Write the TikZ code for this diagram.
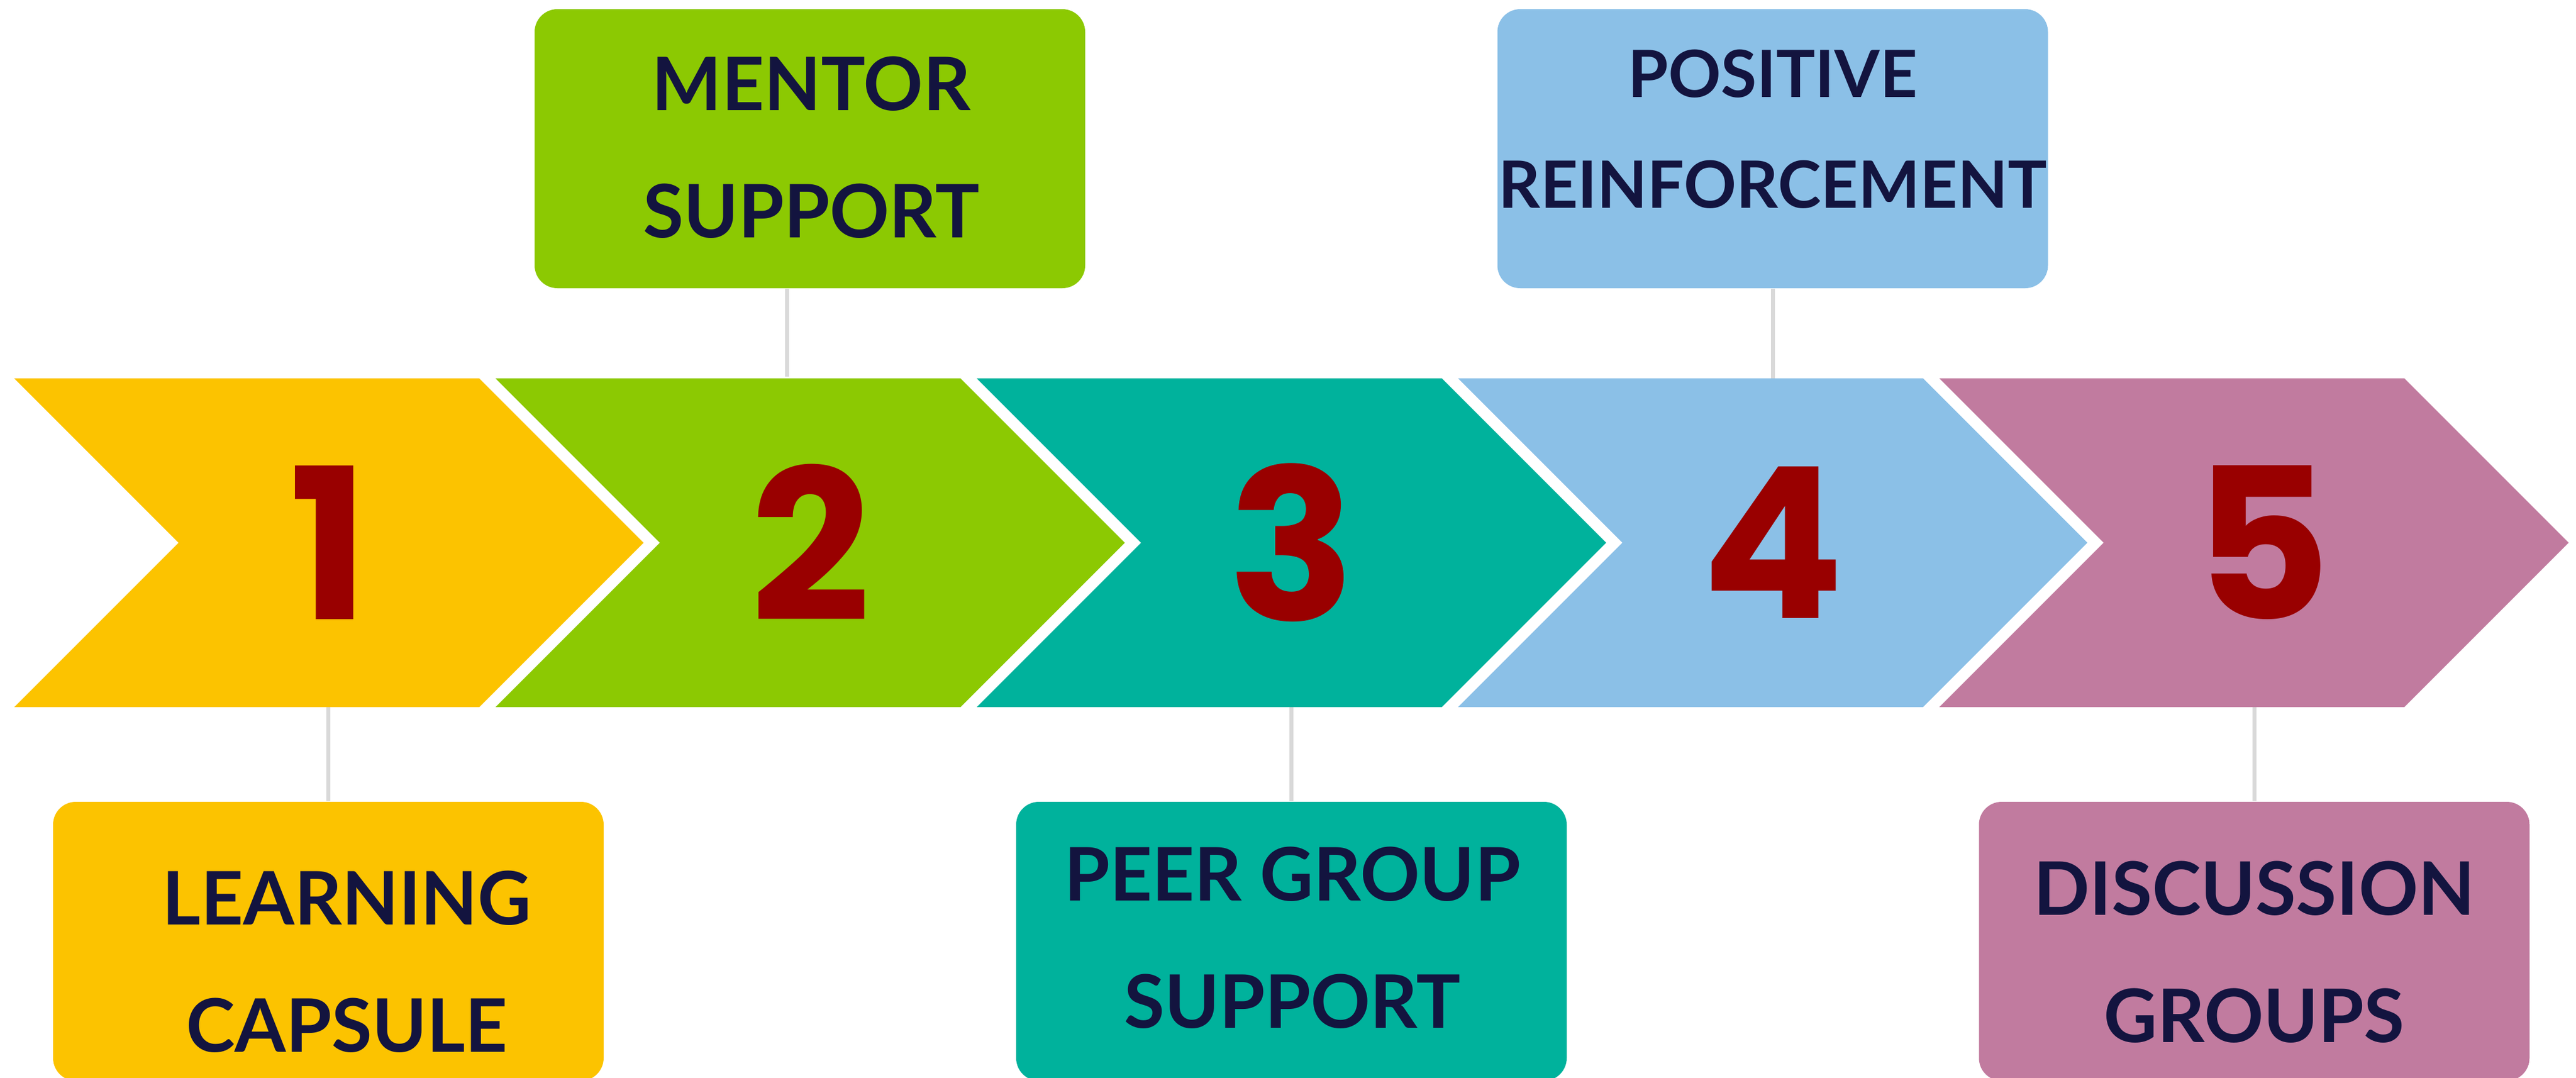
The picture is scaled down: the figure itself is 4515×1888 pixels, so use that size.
\documentclass[tikz,border=0pt]{standalone}
\usepackage{fontspec}
\setmainfont{Lato}
\newfontfamily\numfont{Poppins}
\usepackage{tikz}
\usetikzlibrary{backgrounds}

\definecolor{stepyellow}{HTML}{FCC300}
\definecolor{stepgreen}{HTML}{8CC902}
\definecolor{stepteal}{HTML}{00B29C}
\definecolor{stepblue}{HTML}{8BC0E7}
\definecolor{stepmauve}{HTML}{C17B9F}
\definecolor{numred}{HTML}{990000}
\definecolor{labelnavy}{HTML}{13143F}
\definecolor{linkgray}{HTML}{D9D9D9}

% one arrow of the row: left edge x, colour
\newcommand{\drawchevron}[2]{%
  \fill[#2] (#1,663) -- ++(815,0) -- ++(288,288) -- ++(-288,288) -- ++(-815,0) -- ++(288,-288) -- cycle;}

\tikzset{
  box/.style={rounded corners=4mm, minimum width=96.5mm, minimum height=48.9mm, inner sep=0pt},
  boxtext/.style={font=\bfseries\fontsize{36.8}{63.5}\selectfont, text=labelnavy, align=center, inner sep=0pt},
  longtext/.style={boxtext, font=\bfseries\fontsize{32.5}{55.3}\selectfont},
  num/.style={font=\numfont\bfseries\fontsize{105}{105}\selectfont, text=numred, inner sep=0pt},
  link/.style={draw=linkgray, line width=0.7mm}
}

\begin{document}
\begin{tikzpicture}[x=0.1mm, y=-0.1mm]
\useasboundingbox (0,0) rectangle (4515,1888);

% the five arrows
\drawchevron{25}{stepyellow}
\drawchevron{868.5}{stepgreen}
\drawchevron{1712}{stepteal}
\drawchevron{2555.5}{stepblue}
\drawchevron{3399}{stepmauve}

\node[num] (n1) at (577,951) {1};
\node[num] (n2) at (1420.5,951) {2};
\node[num] (n3) at (2264,951) {3};
\node[num] (n4) at (3107.5,951) {4};
\node[num] (n5) at (3965,951) {5};

% boxes
\node[box, fill=stepyellow] (b1) at (575.5,1649.5) {};
\node[box, fill=stepgreen] (b2) at (1419.5,260.5) {};
\node[box, fill=stepteal] (b3) at (2263.5,1649.5) {};
\node[box, fill=stepblue] (b4) at (3107,260.5) {};
\node[box, fill=stepmauve] (b5) at (3951,1649.5) {};

\node[boxtext] (t1) at (608,1685) {LEARNING\\CAPSULE};
\node[boxtext] (t2) at (1422,258.5) {MENTOR\\SUPPORT};
\node[boxtext] (t3) at (2265,1643) {PEER GROUP\\SUPPORT};
\node[longtext] (t4) at (3107,226.5) {POSITIVE\\REINFORCEMENT};
\node[boxtext] (t5) at (3951,1668) {DISCUSSION\\GROUPS};

% connectors
\coordinate (c1) at (575.5,1239);
\coordinate (c2) at (1379,660);
\coordinate (c3) at (2263.5,1239);
\coordinate (c4) at (3107,667);
\coordinate (c5) at (3951,1239);
\begin{scope}[on background layer]
\draw[link] (c1) -- (b1.north);
\draw[link] (c2) -- (c2 |- b2.south);
\draw[link] (c3) -- (b3.north);
\draw[link] (c4) -- (b4.south);
\draw[link] (c5) -- (b5.north);
\end{scope}
\end{tikzpicture}
\end{document}
